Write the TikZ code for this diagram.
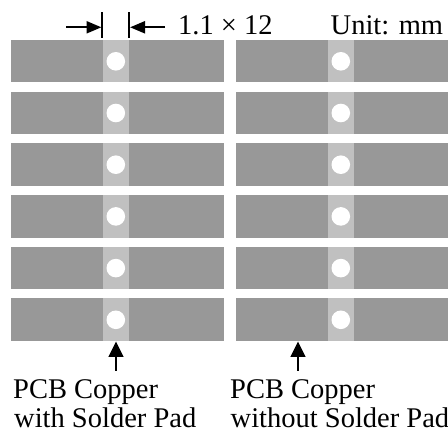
\documentclass[tikz,border=0pt]{standalone}
\usepackage{fontspec}
\setmainfont{Liberation Serif}
\definecolor{copper}{RGB}{152,152,152}
\definecolor{padstrip}{RGB}{192,192,192}
\tikzset{
  bar/.style={fill=copper, draw=none},
  strip/.style={fill=padstrip, draw=none},
  hole/.style={fill=white, draw=none},
  lbl/.style={font=\fontsize{28.5}{30}\selectfont, inner sep=0pt},
  shaft/.style={line width=2.3pt},
  head/.style={fill=black, draw=none},
  tick/.style={line width=2pt}
}
\begin{document}
\begin{tikzpicture}[x=1pt,y=-1pt]
\useasboundingbox (0,0) rectangle (448,433);
\foreach \i in {0,...,5}{
  \pgfmathsetmacro{\yt}{40+51.7*\i}
  \pgfmathsetmacro{\yb}{\yt+42.5}
  \pgfmathsetmacro{\yc}{\yt+21.3}
  \fill[bar] (11,\yt) rectangle (224,\yb);
  \fill[strip] (102.7,\yt) rectangle (129.3,\yb);
  \fill[hole] (115.8,\yc) circle (9.3);
  \fill[bar] (235.5,\yt) rectangle (448,\yb);
  \fill[strip] (327.7,\yt) rectangle (354.3,\yb);
  \fill[hole] (340.8,\yc) circle (9.3);
}
% dimension marks
\coordinate (tl1) at (102.3,12.5);
\coordinate (tl2) at (102.3,38);
\coordinate (tr1) at (129.3,12.5);
\coordinate (tr2) at (129.3,38);
\draw[tick] (tl1) -- (tl2);
\draw[tick] (tr1) -- (tr2);
\coordinate (al) at (66,27.3);
\coordinate (alh) at (88,27.3);
\coordinate (ar) at (165,27.3);
\coordinate (arh) at (143,27.3);
\draw[shaft] (al) -- (alh);
\fill[head] (101.3,27.3) -- (86.5,21) -- (86.5,33.6) -- cycle;
\draw[shaft] (ar) -- (arh);
\fill[head] (130.2,27.3) -- (145,21) -- (145,33.6) -- cycle;
\node[lbl, anchor=base west] (dim) at (178,34.5) {1.1 × 12};
\node[lbl, anchor=base west] (unit) at (330.5,34.5) {Unit: mm};
% pointers
\coordinate (p1) at (116,371);
\coordinate (p1h) at (116,355);
\coordinate (p2) at (298,371);
\coordinate (p2h) at (298,355);
\draw[shaft] (p1) -- (p1h);
\fill[head] (116,341.5) -- (108.3,357) -- (123.7,357) -- cycle;
\draw[shaft] (p2) -- (p2h);
\fill[head] (298,341.5) -- (290.3,357) -- (305.7,357) -- cycle;
\node[lbl, anchor=base west] (l1a) at (13,398.5) {PCB Copper};
\node[lbl, anchor=base west] (l1b) at (14,428) {with Solder Pad};
\node[lbl, anchor=base west] (l2a) at (230,398.5) {PCB Copper};
\node[lbl, anchor=base west] (l2b) at (230.5,428) {without Solder Pad};
\end{tikzpicture}
\end{document}
